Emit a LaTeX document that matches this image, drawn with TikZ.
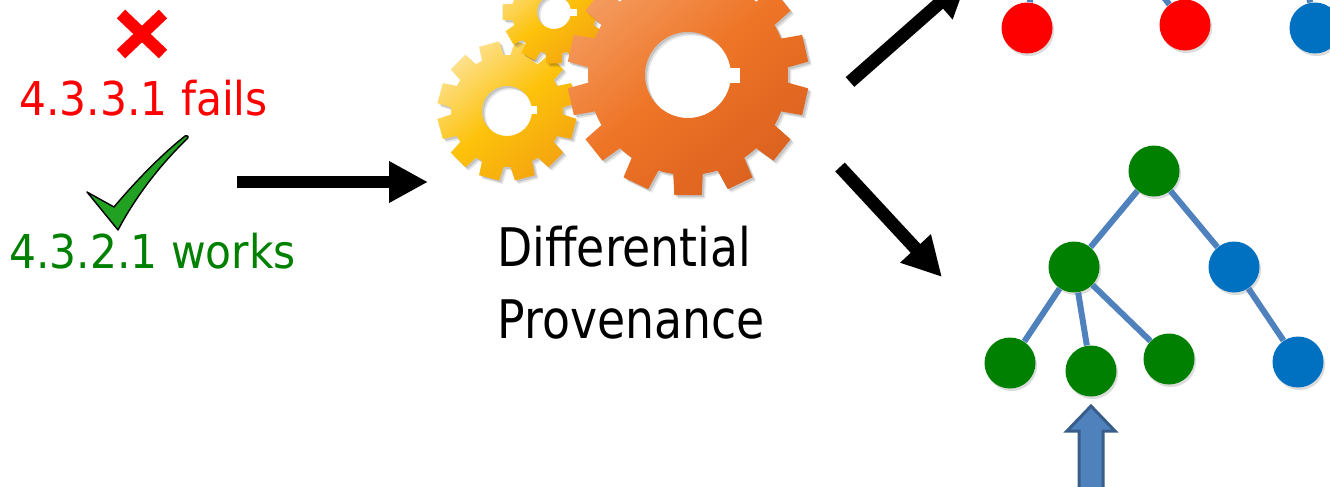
\documentclass[tikz,border=0pt]{standalone}
\usepackage{fontspec}
\setmainfont{DejaVu Sans}
\newfontfamily\lblfont{DejaVu Sans}[FakeStretch=0.91]
\newfontfamily\ttlfont{DejaVu Sans}[FakeStretch=0.86]
\usetikzlibrary{arrows.meta,shadows}

\definecolor{edgeblue}{HTML}{4F81BD}
\definecolor{edgedark}{HTML}{385D8A}
\definecolor{nodegreen}{HTML}{008000}
\definecolor{nodered}{HTML}{FF0000}
\definecolor{nodeblue}{HTML}{0070C0}
\definecolor{checkgreen}{HTML}{22A022}
\definecolor{orangeA}{HTML}{F49C60}
\definecolor{orangeB}{HTML}{EE7426}
\definecolor{orangeC}{HTML}{DC6220}
\definecolor{yellowA}{HTML}{FDE08A}
\definecolor{yellowB}{HTML}{FDC20A}
\definecolor{yellowC}{HTML}{F4A510}

% gear outline: #1 teeth, #2 tip radius, #3 root radius,
% #4 half tip angle, #5 half base angle, #6 phase
\newcommand\gearoutline[6]{%
  ({#6-180/#1}:#3)
  \foreach \k in {1,...,#1}{
    -- ({#6+360*(\k-1)/#1-#5}:#3) -- ({#6+360*(\k-1)/#1-#4}:#2)
    -- ({#6+360*(\k-1)/#1+#4}:#2) -- ({#6+360*(\k-1)/#1+#5}:#3)
    -- ({#6+360*(\k-1)/#1+180/#1}:#3)
  } -- cycle}

% a gear with its hole and a soft offset shadow
% #1 shift, #2 teeth, #3 tip r, #4 root r, #5 half tip, #6 half base,
% #7 phase, #8 hole r, #9 light/mid/dark colour prefix
\newcommand\drawgear[9]{%
  \begin{scope}[shift={#1}]
    \fill[black, opacity=0.10, even odd rule, shift={(3.5,3.5)}]
      \gearoutline{#2}{#3}{#4}{#5}{#6}{#7} (0,0) circle[radius=#8];
    \fill[black, opacity=0.14, even odd rule, shift={(2,2)}]
      \gearoutline{#2}{#3}{#4}{#5}{#6}{#7} (0,0) circle[radius=#8];
    \shade[even odd rule, top color=#9A, bottom color=#9C,
        middle color=#9B, shading angle=40]
      \gearoutline{#2}{#3}{#4}{#5}{#6}{#7} (0,0) circle[radius=#8];
  \end{scope}}

\tikzset{
  dot/.style={circle, minimum size=25.5pt, inner sep=0pt,
    drop shadow={opacity=0.28, shadow xshift=0.8pt, shadow yshift=-1.3pt}},
  gdot/.style={dot, fill=nodegreen},
  rdot/.style={dot, fill=nodered},
  bdot/.style={dot, fill=nodeblue},
  edge/.style={draw=edgeblue, line width=3pt},
  bigarrow/.style={draw=black, line width=6.5pt,
    -{Triangle[length=19.5pt,width=19.5pt]}},
  label/.style={anchor=base west, inner sep=0pt,
    font=\lblfont\fontsize{23.3}{28}\selectfont},
  title/.style={anchor=base west, inner sep=0pt,
    font=\ttlfont\fontsize{26.6}{32}\selectfont},
}

\begin{document}
\begin{tikzpicture}[x=0.5pt,y=-0.5pt]
\useasboundingbox (0,0) rectangle (1330,487);
\clip (0,0) rectangle (1330,487);

% ---- left: outcomes of the two versions ----
\draw[draw=nodered, line width=6pt] (121,14) -- (163,54) (163,14) -- (121,54);
\node[label, text=nodered] (fails) at (19,115) {4.3.3.1 fails};
\node[label, text=nodegreen] (works) at (9,268) {4.3.2.1 works};
\filldraw[fill=checkgreen, draw=black, line width=0.7pt, line join=round]
  (87,192) -- (114,207)
  .. controls (135,182) and (160,156) .. (185,136)
  .. controls (188,135) and (189,137) .. (187,139)
  .. controls (160,165) and (136,196) .. (118,230) -- cycle;

% ---- arrow into the engine ----
\coordinate (inS) at (237,182);
\coordinate (inE) at (428,182);
\draw[bigarrow, line width=6pt] (inS) -- (inE);

% ---- gears ----
\drawgear{(507,111)}{12}{70}{56}{8.5}{11.5}{15}{25}{yellow}
\fill[white] (529,106) rectangle (537,114);
\drawgear{(554,12)}{12}{52}{42}{8.5}{11.5}{0}{17}{yellow}
\fill[white] (569,9) rectangle (577,16);
\drawgear{(688,75)}{14}{121}{100}{6.5}{8.5}{12.857}{43}{orange}
\fill[white] (726,67.5) rectangle (740,82.5);

\node[title] (diff) at (497,266) {Differential};
\node[title] (prov) at (497,338) {Provenance};

% ---- arrows out of the engine ----
\coordinate (upS) at (850,82);
\coordinate (upE) at (968,-22);
\draw[bigarrow] (upS) -- (upE);
\coordinate (dnS) at (840,167);
\coordinate (dnE) at (942,277);
\draw[bigarrow] (dnS) -- (dnE);

% ---- upper tree (failing run) ----
\node[rdot] (f1) at (1027,28) {};
\node[rdot] (f2) at (1185,25) {};
\node[bdot] (f3) at (1315,28) {};
\coordinate (fp1) at (1037,-60);
\coordinate (fp2) at (1120,-60);
\coordinate (fp3) at (1298,-60);
\draw[edge] (fp1) -- (f1);
\draw[edge] (fp2) -- (f2);
\draw[edge] (fp3) -- (f3);

% ---- lower tree (working run) ----
\node[gdot] (root) at (1154,171) {};
\node[gdot] (mid) at (1074,267) {};
\node[bdot] (side) at (1234,267) {};
\node[gdot] (leafA) at (1010,363) {};
\node[gdot] (leafB) at (1091,371) {};
\node[gdot] (leafC) at (1169,359) {};
\node[bdot] (leafD) at (1298,362) {};
\draw[edge] (root) -- (mid);
\draw[edge] (root) -- (side);
\draw[edge] (mid) -- (leafA);
\draw[edge] (mid) -- (leafB);
\draw[edge] (mid) -- (leafC);
\draw[edge] (side) -- (leafD);

% ---- block arrow marking the differing leaf ----
\filldraw[fill=edgeblue, draw=edgedark, line width=1.5pt, line join=miter]
  (1091,406) -- (1115,431) -- (1103,431) -- (1103,500)
  -- (1079,500) -- (1079,431) -- (1067,431) -- cycle;
\end{tikzpicture}
\end{document}
